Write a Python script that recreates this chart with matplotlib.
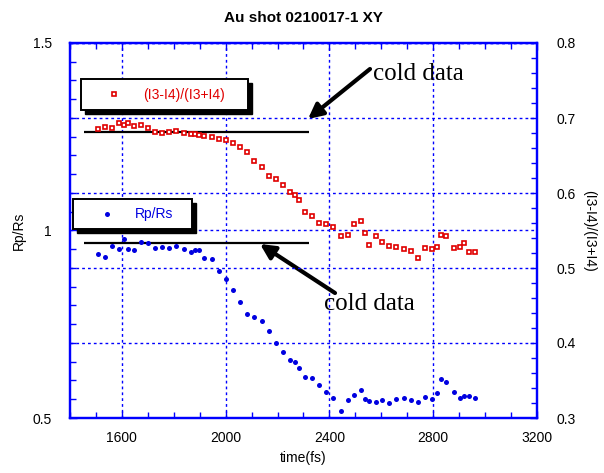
import matplotlib
matplotlib.use("Agg")
import matplotlib.pyplot as plt
from matplotlib.ticker import MultipleLocator, FuncFormatter
from matplotlib.patches import Rectangle
from matplotlib.lines import Line2D
from matplotlib.transforms import Affine2D

plt.rcParams['font.family'] = ['Liberation Sans', 'DejaVu Sans']

# ---- data ----
time_fs = [1507, 1535, 1562, 1589, 1607, 1623, 1646, 1673, 1699, 1727,
           1755, 1782, 1808, 1838, 1865, 1880, 1899, 1918, 1948, 1976,
           2002, 2030, 2056, 2082, 2111, 2140, 2168, 2193, 2221, 2248,
           2266, 2282, 2306, 2331, 2358, 2386, 2414, 2443, 2470, 2493,
           2520, 2538, 2554, 2578, 2604, 2630, 2658, 2687, 2715, 2742,
           2768, 2796, 2813, 2830, 2851, 2880, 2904, 2920, 2938, 2961]

ratio_I = [0.685, 0.688, 0.687, 0.694, 0.691, 0.693, 0.690, 0.691, 0.687, 0.681,
           0.680, 0.681, 0.682, 0.680, 0.679, 0.679, 0.677, 0.676, 0.675, 0.672,
           0.670, 0.667, 0.661, 0.655, 0.643, 0.635, 0.623, 0.618, 0.611, 0.601,
           0.597, 0.590, 0.575, 0.570, 0.560, 0.558, 0.555, 0.543, 0.544, 0.558,
           0.562, 0.546, 0.531, 0.542, 0.535, 0.529, 0.528, 0.525, 0.522, 0.513,
           0.527, 0.525, 0.528, 0.544, 0.542, 0.526, 0.528, 0.533, 0.521, 0.521]

rp_rs = [0.938, 0.930, 0.958, 0.951, 0.978, 0.951, 0.948, 0.970, 0.967, 0.954,
         0.957, 0.954, 0.959, 0.951, 0.943, 0.947, 0.947, 0.927, 0.924, 0.891,
         0.870, 0.841, 0.810, 0.777, 0.770, 0.758, 0.733, 0.699, 0.676, 0.655,
         0.649, 0.633, 0.610, 0.607, 0.588, 0.569, 0.554, 0.519, 0.549, 0.561,
         0.575, 0.550, 0.546, 0.543, 0.547, 0.540, 0.550, 0.554, 0.549, 0.543,
         0.555, 0.551, 0.567, 0.604, 0.597, 0.569, 0.554, 0.558, 0.558, 0.554]

cold_span = [1454, 2321]
cold_ratio_I = 0.6817
cold_rp_rs = 0.966

x_ticks = [1600, 2000, 2400, 2800, 3200]
left_ticks = [0.5, 1.0, 1.5]
right_ticks = [0.3, 0.4, 0.5, 0.6, 0.7, 0.8]

title = "Au shot 0210017-1 XY"
xlabel = "time(fs)"
left_label = "Rp/Rs"
right_label = "(I3-I4)/(I3+I4)"
annot_text = "cold data"

# ---- styles ----
BLUE = '#0000e0'
RED = '#e00000'
FRAME = '#0000ff'
W, H = 604, 473

fig = plt.figure(figsize=(W / 100, H / 100), dpi=100)
ax = fig.add_axes([70 / W, 1 - 418 / H, (537 - 70) / W, (418 - 43) / H])
ax2 = ax.twinx()

blue_style = dict(linestyle='none', marker='o', markersize=3.6, color=BLUE,
                  markeredgewidth=0)
red_style = dict(linestyle='none', marker='s', markersize=2.7, color=RED,
                 markerfacecolor='white', markeredgecolor=RED, markeredgewidth=1.2)

ax.plot(time_fs, rp_rs, label=left_label, zorder=3, **blue_style)
ax2.plot(time_fs, ratio_I, label=right_label, zorder=3, **red_style)

ax.hlines(cold_rp_rs, cold_span[0], cold_span[1], color='black', lw=1.6, zorder=2)
ax2.hlines(cold_ratio_I, cold_span[0], cold_span[1], color='black', lw=1.6, zorder=2)

ax.set_xlim(1400, 3200)
ax.set_ylim(0.5, 1.5)
ax2.set_ylim(0.3, 0.8)

ax.set_xticks(x_ticks)
ax.xaxis.set_minor_locator(MultipleLocator(100))
ax.set_yticks(left_ticks)
ax.yaxis.set_minor_locator(MultipleLocator(0.05))
ax2.set_yticks(right_ticks)
ax2.yaxis.set_minor_locator(MultipleLocator(0.02))
fmt = FuncFormatter(lambda v, p: '%g' % round(v, 3))
ax.yaxis.set_major_formatter(fmt)
ax2.yaxis.set_major_formatter(fmt)

grid_kw = dict(color=FRAME, linestyle=(0, (2, 2.2)), linewidth=1.0)
ax.xaxis.grid(True, **grid_kw)
ax.yaxis.grid(True, **grid_kw)
ax2.yaxis.grid(True, **grid_kw)
ax.set_axisbelow(True)

for a in (ax, ax2):
    for s in a.spines.values():
        s.set_color(FRAME)
        s.set_linewidth(1.6)
    a.tick_params(which='both', direction='in', color=FRAME, labelsize=10,
                  labelcolor='black', width=1.0)
    a.tick_params(which='major', length=5)
    a.tick_params(which='minor', length=4)
ax.tick_params(axis='x', which='both', top=True, pad=9)
ax.tick_params(axis='y', which='both', right=False, pad=13)
ax2.tick_params(axis='y', which='both', left=False, pad=14)

ax.set_title(title, fontsize=11, fontweight='bold', pad=15)
ax.set_xlabel(xlabel, fontsize=10, labelpad=5)
ax.set_ylabel(left_label, fontsize=10, labelpad=5)
ax2.set_ylabel(right_label, fontsize=10, rotation=270, labelpad=15)

# ---- legend boxes (figure pixel coordinates, origin bottom-left) ----
px = Affine2D().scale(1 / W, 1 / H) + fig.transFigure

def legend_box(x0, y0, w, h, handle_style, mx, text, tx, tcolor):
    fig.patches.append(Rectangle((x0 + 4, y0 - 4), w, h, transform=px,
                                 facecolor='black', edgecolor='black', zorder=5))
    fig.patches.append(Rectangle((x0, y0), w, h, transform=px,
                                 facecolor='white', edgecolor='black',
                                 linewidth=1.4, zorder=6))
    fig.lines.append(Line2D([mx], [y0 + h / 2], transform=px, zorder=7,
                            **handle_style))
    fig.text(tx, y0 + h / 2, text, transform=px, fontsize=10, color=tcolor,
             ha='left', va='center', zorder=7)

legend_box(81, 473 - 110, 167, 31, red_style, 114, right_label, 143, RED)
legend_box(73, 473 - 229, 119, 30, blue_style, 107, left_label, 135, BLUE)

# ---- arrows + annotation text ----
arrow_kw = dict(arrowstyle='-|>', color='black', lw=3, mutation_scale=22,
                shrinkA=0, shrinkB=0)
ax.annotate('', xy=(308, 473 - 119), xytext=(370, 473 - 69),
            xycoords='figure pixels', textcoords='figure pixels',
            arrowprops=arrow_kw, annotation_clip=False)
ax.annotate('', xy=(260, 473 - 244), xytext=(335, 473 - 293),
            xycoords='figure pixels', textcoords='figure pixels',
            arrowprops=arrow_kw, annotation_clip=False)
fig.text(373, 473 - 74, annot_text, transform=px, fontsize=18,
         family='Liberation Serif', ha='left', va='center')
fig.text(324, 473 - 304, annot_text, transform=px, fontsize=18,
         family='Liberation Serif', ha='left', va='center')

fig.savefig('out.png', dpi=100)
